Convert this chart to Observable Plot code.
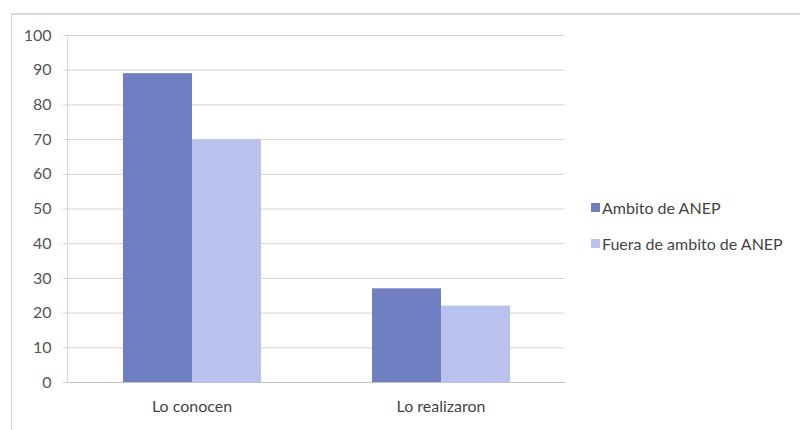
<!DOCTYPE html>
<html><head><meta charset="utf-8">
<script src="https://cdn.jsdelivr.net/npm/d3@7"></script>
<script src="https://cdn.jsdelivr.net/npm/@observablehq/plot@0.6"></script>
<style>
body{margin:0;background:#fff;}
#wrap{position:relative;width:800px;height:430px;overflow:hidden;font-family:Lato,sans-serif;background:#fff;}
#border{position:absolute;left:11px;top:13px;right:-2px;bottom:-2px;border-left:1px solid #d6d6d6;border-top:2px solid #dadada;}
#chart{position:absolute;left:0;top:0;}
.item{position:absolute;left:591px;white-space:nowrap;font-size:16px;color:#444;display:flex;align-items:center;height:18px;}
.sw{width:9px;height:9px;margin-right:2px;display:inline-block;}
</style>
</head><body>
<div id="wrap"><div id="border"></div><div id="chart"></div><div id="legend"></div></div>
<script>
const categories = ["Lo conocen", "Lo realizaron"];
const series = ["Ambito de ANEP", "Fuera de ambito de ANEP"];
const ambito = [89, 27];
const fuera = [70, 22];
const yTicks = [0, 10, 20, 30, 40, 50, 60, 70, 80, 90, 100];
const colors = ["#6f7fc1", "#b9c2ec"];

const rows = [];
categories.forEach((c, i) => {
  rows.push({category: c, series: series[0], value: ambito[i]});
  rows.push({category: c, series: series[1], value: fuera[i]});
});

const chart = Plot.plot({
  width: 800, height: 430,
  marginLeft: 67, marginRight: 235, marginTop: 35, marginBottom: 48,
  style: {fontFamily: "Lato, sans-serif", fontSize: "16px", color: "#555", background: "transparent"},
  fx: {domain: categories, padding: 0, label: null, axis: null},
  x: {domain: series, paddingInner: 0, paddingOuter: 0.786, axis: null},
  y: {domain: [0, 100], ticks: yTicks, label: null},
  color: {domain: series, range: colors},
  marks: [
    Plot.gridY(yTicks, {stroke: "#d4d4d4", strokeOpacity: 1}),
    Plot.frame({anchor: "left", facetAnchor: "left", stroke: "#d8d8d8"}),
    Plot.barY(rows, {fx: "category", x: "series", y: "value", fill: "series"}),
    Plot.ruleY([0], {stroke: "#c4c4c4"}),
    Plot.axisY(yTicks, {tickSize: 4, tickPadding: 12, stroke: "#d4d4d4", fill: "#555", label: null, fontSize: 16}),
    Plot.axisFx({anchor: "bottom", tickSize: 0, tickPadding: 18, label: null, fill: "#444", fontSize: 16})
  ]
});
document.getElementById("chart").appendChild(chart);

const legend = document.getElementById("legend");
const legendY = [198, 234];
series.forEach((s, i) => {
  const d = document.createElement("div");
  d.className = "item";
  d.style.top = legendY[i] + "px";
  d.innerHTML = `<span class="sw" style="background:${colors[i]}"></span>${s}`;
  legend.appendChild(d);
});
</script>
</body></html>
